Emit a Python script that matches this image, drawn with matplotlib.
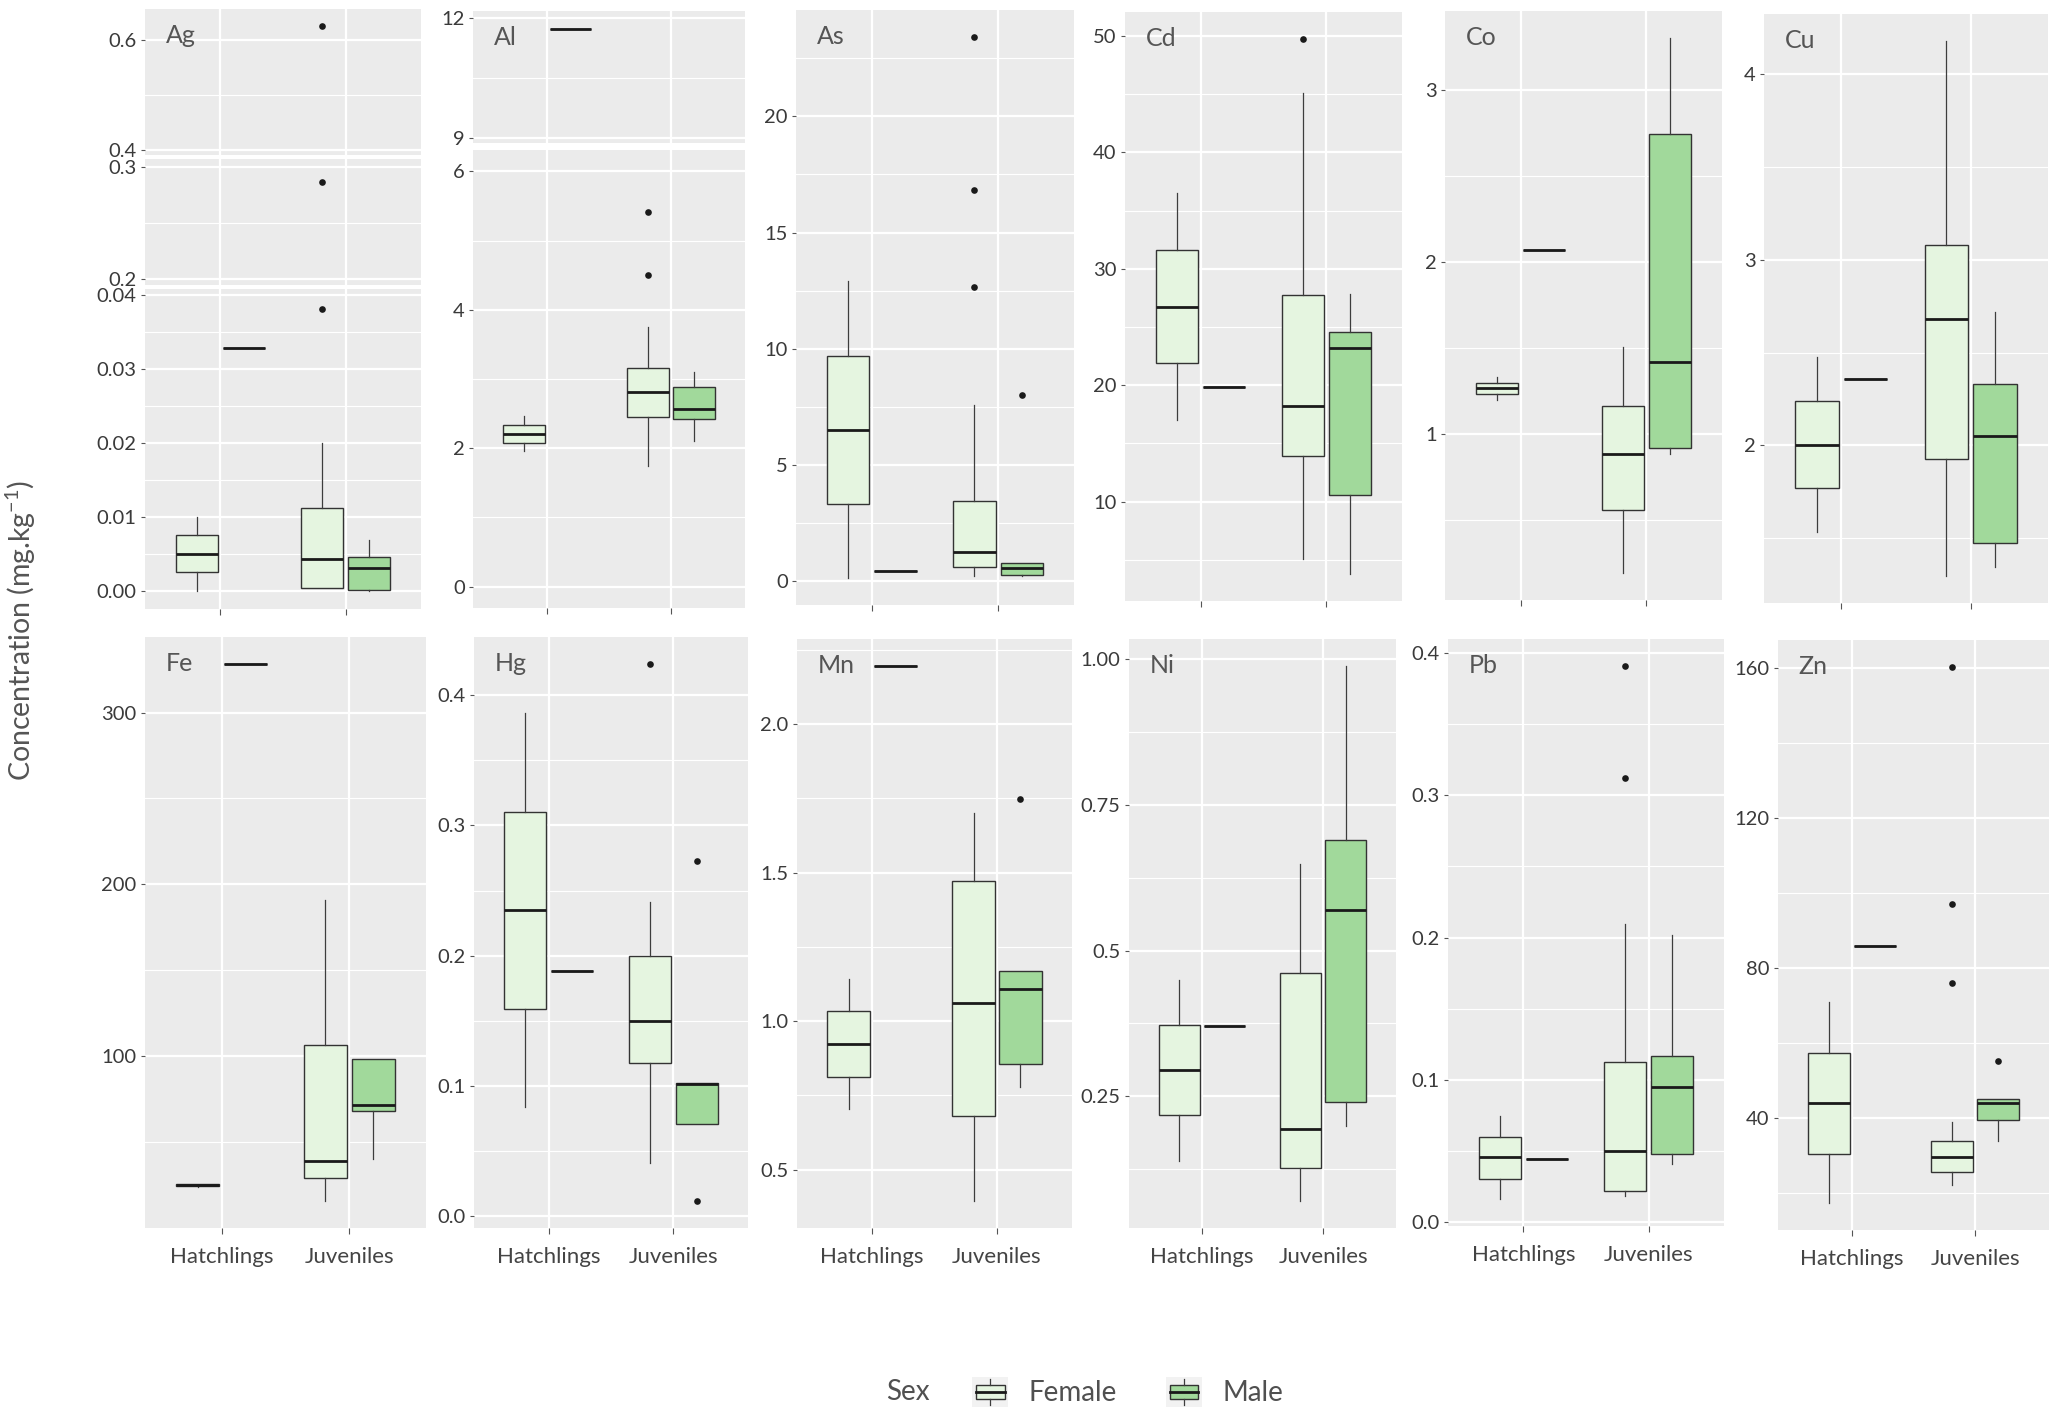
"""Boxplots of trace element concentrations by age class and sex (12 panels)."""
import matplotlib
matplotlib.use('Agg')
import matplotlib.pyplot as plt
import numpy as np
from matplotlib.patches import Rectangle, Patch
from matplotlib.lines import Line2D
from matplotlib.legend_handler import HandlerBase

# ---------------- data ----------------
elements = ["Ag", "Al", "As", "Cd", "Co", "Cu",
            "Fe", "Hg", "Mn", "Ni", "Pb", "Zn"]
groups = ["Hatchlings", "Juveniles"]
sexes = ["Female", "Male"]

# columns: Hatchlings-Female, Hatchlings-Male, Juveniles-Female, Juveniles-Male
q1_vals = [
    [0.0025, 0.0328, 0.0003, 0.0001],
    [2.08, 11.71, 2.45, 2.42],
    [3.32, 0.40, 0.61, 0.26],
    [21.87, 19.81, 13.92, 10.6],
    [1.228, 2.068, 0.556, 0.919],
    [1.769, 2.36, 1.927, 1.473],
    [24.2, 328.4, 28.6, 67.7],
    [0.159, 0.188, 0.118, 0.071],
    [0.813, 2.196, 0.680, 0.855],
    [0.2175, 0.370, 0.1266, 0.240],
    [0.0306, 0.0447, 0.0218, 0.0482],
    [30.57, 86.0, 25.64, 39.44],
]
med_vals = [
    [0.0050, 0.0328, 0.0043, 0.0031],
    [2.20, 11.71, 2.81, 2.57],
    [6.51, 0.40, 1.23, 0.54],
    [26.74, 19.81, 18.23, 23.2],
    [1.263, 2.068, 0.884, 1.418],
    [2.004, 2.36, 2.679, 2.048],
    [24.7, 328.4, 38.6, 71.2],
    [0.235, 0.188, 0.150, 0.1015],
    [0.923, 2.196, 1.061, 1.109],
    [0.2947, 0.370, 0.1944, 0.570],
    [0.0456, 0.0447, 0.0503, 0.0953],
    [44.15, 86.0, 29.57, 44.15],
]
q3_vals = [
    [0.0075, 0.0328, 0.0112, 0.0046],
    [2.33, 11.71, 3.16, 2.88],
    [9.68, 0.40, 3.42, 0.77],
    [31.65, 19.81, 27.79, 24.6],
    [1.297, 2.068, 1.159, 2.741],
    [2.240, 2.36, 3.079, 2.33],
    [25.2, 328.4, 106.6, 98.0],
    [0.310, 0.188, 0.200, 0.102],
    [1.033, 2.196, 1.473, 1.170],
    [0.372, 0.370, 0.462, 0.689],
    [0.060, 0.0447, 0.1124, 0.1168],
    [57.5, 86.0, 33.83, 45.16],
]
whislo_vals = [
    [0.0, 0.0328, 0.0003, 0.0],
    [1.955, 11.71, 1.74, 2.11],
    [0.12, 0.40, 0.21, 0.21],
    [17.0, 19.81, 5.1, 3.77],
    [1.197, 2.068, 0.189, 0.881],
    [1.532, 2.36, 1.295, 1.345],
    [23.8, 328.4, 15.4, 39.9],
    [0.084, 0.188, 0.041, 0.071],
    [0.704, 2.196, 0.394, 0.778],
    [0.140, 0.370, 0.0703, 0.200],
    [0.0162, 0.0447, 0.0182, 0.0412],
    [17.33, 86.0, 22.05, 33.94],
]
whishi_vals = [
    [0.010, 0.0328, 0.0199, 0.0068],
    [2.463, 11.71, 3.75, 3.10],
    [12.89, 0.40, 7.58, 0.77],
    [36.51, 19.81, 45.1, 27.86],
    [1.327, 2.068, 1.505, 3.301],
    [2.477, 2.36, 4.18, 2.716],
    [25.6, 328.4, 191.0, 98.0],
    [0.386, 0.188, 0.241, 0.102],
    [1.143, 2.196, 1.701, 1.170],
    [0.449, 0.370, 0.649, 0.988],
    [0.0747, 0.0447, 0.2094, 0.202],
    [70.97, 86.0, 38.99, 45.16],
]
outliers = [
    [[], [], [0.0381, 0.287, 0.625], []],
    [[], [], [4.51, 5.41], []],
    [[], [], [12.67, 16.82, 23.42], [8.0]],
    [[], [], [49.75], []],
    [[], [], [], []],
    [[], [], [], []],
    [[], [], [], []],
    [[], [], [0.424], [0.0116, 0.2727]],
    [[], [], [], [1.747]],
    [[], [], [], []],
    [[], [], [0.3124, 0.391], []],
    [[], [], [76.1, 97.2, 160.4], [55.37]],
]

# y axis breaks and labels
major_ticks = {
    "As": [0, 5, 10, 15, 20], "Cd": [10, 20, 30, 40, 50], "Co": [1, 2, 3],
    "Cu": [2, 3, 4], "Fe": [100, 200, 300], "Hg": [0, 0.1, 0.2, 0.3, 0.4],
    "Mn": [0.5, 1.0, 1.5, 2.0], "Ni": [0.25, 0.5, 0.75, 1.0],
    "Pb": [0, 0.1, 0.2, 0.3, 0.4], "Zn": [40, 80, 120, 160],
}
major_labels = {
    "As": ["0", "5", "10", "15", "20"], "Cd": ["10", "20", "30", "40", "50"],
    "Co": ["1", "2", "3"], "Cu": ["2", "3", "4"], "Fe": ["100", "200", "300"],
    "Hg": ["0.0", "0.1", "0.2", "0.3", "0.4"], "Mn": ["0.5", "1.0", "1.5", "2.0"],
    "Ni": ["0.25", "0.5", "0.75", "1.00"], "Pb": ["0.0", "0.1", "0.2", "0.3", "0.4"],
    "Zn": ["40", "80", "120", "160"],
}

# ---------------- layout (pixels on the 2059 x 1419 canvas) ----------------
W, H = 2059, 1419
panel_px = {  # left, right, top, bottom
    "Ag": (145, 421, 9, 609), "Al": (473, 745, 11, 608),
    "As": (796, 1074, 10, 605), "Cd": (1125, 1402, 12, 601),
    "Co": (1445, 1722, 11, 600), "Cu": (1764, 2048, 14, 603),
    "Fe": (145, 426, 637, 1228), "Hg": (474, 748, 637, 1228),
    "Mn": (797, 1072, 639, 1228), "Ni": (1129, 1396, 639, 1228),
    "Pb": (1448, 1724, 639, 1226), "Zn": (1778, 2049, 640, 1230),
}
# broken axes: (top px, bottom px), y limits, ticks, labels
broken = {
    "Ag": [((9, 155), (0.391, 0.656), [0.4, 0.6], ["0.4", "0.6"]),
           ((159, 285), (0.195, 0.307), [0.2, 0.3], ["0.2", "0.3"]),
           ((289, 609), (-0.0025, 0.0408), [0, 0.01, 0.02, 0.03, 0.04],
            ["0.00", "0.01", "0.02", "0.03", "0.04"])],
    "Al": [((11, 143), (8.88, 12.17), [9, 12], ["9", "12"]),
           ((150, 608), (-0.31, 6.31), [0, 2, 4, 6], ["0", "2", "4", "6"])],
}
bottom_row = {"Fe", "Hg", "Mn", "Ni", "Pb", "Zn"}

fill_colors = ["#E5F5E0", "#A1D99B"]
edge_c = "#333333"
panel_bg = "#EBEBEB"
text_c = "#3a3a3a"

plt.rcParams.update({
    'font.family': ['Lato', 'DejaVu Sans'],
    'mathtext.fontset': 'custom',
    'mathtext.rm': 'Lato',
    'mathtext.it': 'Lato:italic',
    'mathtext.bf': 'Lato:bold',
})

fig = plt.figure(figsize=(W / 100, H / 100), dpi=100)

positions = [1 - 0.1875, 1 + 0.1875, 2 - 0.1875, 2 + 0.1875]


def minor_from(majors, lo, hi):
    m = np.asarray(majors, dtype=float)
    step = np.diff(m).min()
    ext = np.concatenate([[m[0] - step], m, [m[-1] + step]])
    mids = (ext[:-1] + ext[1:]) / 2
    return [v for v in mids if lo <= v <= hi]


def draw_boxes(ax, i):
    stats = []
    for j in range(4):
        stats.append(dict(q1=q1_vals[i][j], med=med_vals[i][j], q3=q3_vals[i][j],
                          whislo=whislo_vals[i][j], whishi=whishi_vals[i][j],
                          fliers=outliers[i][j]))
    bp = ax.bxp(stats, positions=positions, widths=0.3375, patch_artist=True,
                showcaps=False, manage_ticks=False,
                boxprops=dict(edgecolor=edge_c, linewidth=1.0),
                medianprops=dict(color='#1a1a1a', linewidth=2.0),
                whiskerprops=dict(color='#3d3d3d', linewidth=0.9),
                flierprops=dict(marker='o', markerfacecolor='#1a1a1a',
                                markeredgecolor='none', markersize=4.8))
    for j, patch in enumerate(bp['boxes']):
        patch.set_facecolor(fill_colors[j % 2])


def style_axis(ax, ylim, majors, labels, show_xticks, show_xlabels):
    ax.set_facecolor(panel_bg)
    for s in ax.spines.values():
        s.set_visible(False)
    ax.set_xlim(0.4, 2.6)
    ax.set_ylim(*ylim)
    ax.set_xticks([1, 2])
    ax.set_xticklabels(groups if show_xlabels else ["", ""])
    ax.set_yticks(majors)
    ax.set_yticklabels(labels)
    ax.set_yticks(minor_from(majors, *ylim), minor=True)
    ax.grid(which='major', color='white', linewidth=1.6)
    ax.grid(which='minor', axis='y', color='white', linewidth=0.8)
    ax.set_axisbelow(True)
    ax.tick_params(which='minor', length=0)
    ax.tick_params(axis='y', length=3, width=0.8, color='#555555',
                   labelsize=14.5, labelcolor=text_c, pad=3)
    ax.tick_params(axis='x', length=4 if show_xticks else 0, width=0.8,
                   color='#555555', labelsize=16, labelcolor='#444444', pad=10)


for i, el in enumerate(elements):
    left, right, top, bottom = panel_px[el]
    if el in broken:
        segs = broken[el]
    else:
        lo = min(whislo_vals[i] + sum(outliers[i], []))
        hi = max(whishi_vals[i] + sum(outliers[i], []))
        pad = 0.05 * (hi - lo)
        segs = [((top, bottom), (lo - pad, hi + pad), major_ticks[el], major_labels[el])]
    for k, ((t, b), ylim, majors, labels) in enumerate(segs):
        ax = fig.add_axes([left / W, 1 - b / H, (right - left) / W, (b - t) / H])
        last = k == len(segs) - 1
        style_axis(ax, ylim, majors, labels, last, last and el in bottom_row)
        draw_boxes(ax, i)
        if k == 0:
            ax.annotate(el, xy=(0, 1), xycoords='axes fraction',
                        xytext=(15, -19), textcoords='offset points',
                        ha='left', va='center', fontsize=18, color='#555555')

fig.text(21 / W, 1 - 630 / H, "Concentration (mg.kg$^{-1}$)", rotation=90,
         ha='center', va='center', fontsize=20.5, color='#555555')


class BoxKey(HandlerBase):
    def create_artists(self, legend, orig_handle, xdescent, ydescent,
                       width, height, fontsize, trans):
        x0, y0 = -xdescent, -ydescent
        bg = Rectangle((x0, y0), width, height, facecolor='#F2F2F2',
                       edgecolor='none', transform=trans)
        box = Rectangle((x0 + 0.1 * width, y0 + 0.27 * height), 0.8 * width,
                        0.46 * height, facecolor=orig_handle.get_facecolor(),
                        edgecolor=edge_c, linewidth=1.0, transform=trans)
        med = Line2D([x0 + 0.1 * width, x0 + 0.9 * width], [y0 + 0.5 * height] * 2,
                     color='#1a1a1a', linewidth=2.0, transform=trans)
        w1 = Line2D([x0 + width / 2] * 2, [y0 + 0.08 * height, y0 + 0.27 * height],
                    color='#3d3d3d', linewidth=0.9, transform=trans)
        w2 = Line2D([x0 + width / 2] * 2, [y0 + 0.73 * height, y0 + 0.92 * height],
                    color='#3d3d3d', linewidth=0.9, transform=trans)
        return [bg, box, med, w1, w2]


handles = [Patch(facecolor=c, edgecolor=edge_c) for c in fill_colors]
fig.text(886 / W, 1 - 1392 / H, "Sex", ha='left', va='center',
         fontsize=20, color='#505050')
leg = fig.legend(handles, sexes, loc='center left',
                 bbox_to_anchor=(972 / W, 1 - 1392 / H), ncol=2, frameon=False,
                 handler_map={Patch: BoxKey()}, handlelength=1.3,
                 handleheight=1.3, handletextpad=0.75, columnspacing=1.75,
                 borderpad=0, borderaxespad=0, fontsize=20)
for t in leg.get_texts():
    t.set_color('#505050')

fig.savefig('out.png', dpi=100)
